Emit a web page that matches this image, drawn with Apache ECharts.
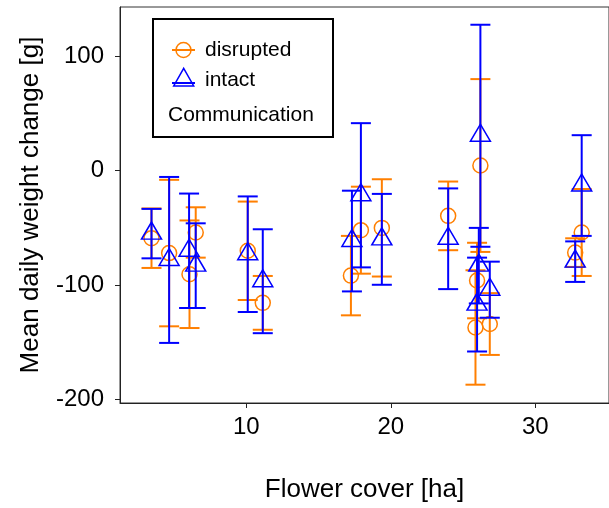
<!DOCTYPE html>
<html>
<head>
<meta charset="utf-8">
<script src="https://cdn.jsdelivr.net/npm/echarts@6/dist/echarts.min.js"></script>
<style>
  html, body { margin: 0; padding: 0; background: #fff; }
  #chart { width: 609px; height: 508px; }
</style>
</head>
<body>
<div id="chart"></div>
<script>
// Flower cover [ha] and mean daily weight change [g] (+/- error) per site
const coverDisrupted = [3.44, 4.66, 6.07, 6.5, 10.1, 11.14, 17.24, 17.93, 19.38, 23.97, 26.2, 25.97, 25.86, 26.85, 32.76, 33.21]
const meanDisrupted = [-59, -72, -90.5, -54, -70, -115.5, -91.7, -52, -50, -39.5, 4.5, -96, -137, -134, -71.6, -54]
const errDisrupted = [26, 64, 47, 22, 43, 23.5, 34.7, 38, 42.5, 30, 75.5, 33, 50, 27, 12.5, 38]

const coverIntact = [3.44, 4.66, 6.04, 6.5, 10.1, 11.14, 17.31, 17.93, 19.38, 23.97, 26.2, 26.09, 25.97, 26.85, 32.76, 33.21]
const meanIntact = [-55, -78, -70, -83, -73, -96.6, -61.5, -21.5, -60, -59.5, 30.5, -83, -117, -104, -79.5, -13]
const errIntact = [21.6, 72.5, 50, 37, 50.5, 45.4, 44, 63, 39.7, 44, 97, 33, 41, 24.5, 17.7, 44]

const xTicks = [10, 20, 30]
const yTicks = [-200, -100, 0, 100]

const ORANGE = '#FF7F00'
const BLUE = '#0000FF'
const FONT = '"Liberation Sans", Arial, sans-serif'

const pointData = (xs, ms) => xs.map((x, i) => [x, ms[i]])
const barData = (xs, ms, es) => xs.map((x, i) => [x, ms[i] - es[i], ms[i] + es[i]])

// vertical error bar with caps
const errorBar = (color) => (params, api) => {
  const x = api.value(0)
  const top = api.coord([x, api.value(2)])
  const bot = api.coord([x, api.value(1)])
  const half = 10
  const style = { stroke: color, lineWidth: 2 }
  const line = (x1, y1, x2, y2) => ({ type: 'line', shape: { x1, y1, x2, y2 }, style })
  return {
    type: 'group',
    children: [
      line(top[0], top[1], bot[0], bot[1]),
      line(top[0] - half, top[1], top[0] + half, top[1]),
      line(bot[0] - half, bot[1], bot[0] + half, bot[1])
    ]
  }
}

const chart = echarts.init(document.getElementById('chart'))

chart.setOption({
  animation: false,
  textStyle: { fontFamily: FONT },
  grid: {
    left: 120, top: 7, right: -2, bottom: 105,
    show: true, borderColor: '#333', borderWidth: 1
  },
  xAxis: {
    type: 'value',
    min: 1.26,
    max: 35.1,
    name: 'Flower cover [ha]',
    nameLocation: 'middle',
    nameGap: 74,
    nameTextStyle: { fontSize: 26, color: '#000', fontFamily: FONT },
    splitLine: { show: false },
    axisLine: { onZero: false, lineStyle: { color: '#222', width: 1 } },
    axisTick: { customValues: xTicks, length: 5, lineStyle: { color: '#222' } },
    axisLabel: { customValues: xTicks, fontSize: 24, color: '#000', margin: 12, fontFamily: FONT }
  },
  yAxis: {
    type: 'value',
    min: -203,
    max: 143,
    name: 'Mean daily weight change [g]',
    nameLocation: 'middle',
    nameGap: 76,
    nameTextStyle: { fontSize: 26, color: '#000', fontFamily: FONT },
    splitLine: { show: false },
    axisLine: { show: true, onZero: false, lineStyle: { color: '#222', width: 1 } },
    axisTick: { show: true, customValues: yTicks, length: 5, lineStyle: { color: '#222' } },
    axisLabel: { customValues: yTicks, fontSize: 24, color: '#000', margin: 16, fontFamily: FONT }
  },
  series: [
    {
      type: 'custom',
      name: 'disrupted bars',
      renderItem: errorBar(ORANGE),
      encode: { x: 0, y: [1, 2] },
      data: barData(coverDisrupted, meanDisrupted, errDisrupted),
      z: 2
    },
    {
      type: 'scatter',
      name: 'disrupted',
      data: pointData(coverDisrupted, meanDisrupted),
      symbol: 'circle',
      symbolSize: 15,
      itemStyle: { color: 'rgba(0,0,0,0)', borderColor: ORANGE, borderWidth: 1.5, opacity: 1 },
      z: 3
    },
    {
      type: 'custom',
      name: 'intact bars',
      renderItem: errorBar(BLUE),
      encode: { x: 0, y: [1, 2] },
      data: barData(coverIntact, meanIntact, errIntact),
      z: 4
    },
    {
      type: 'scatter',
      name: 'intact',
      data: pointData(coverIntact, meanIntact),
      symbol: 'triangle',
      symbolSize: [20, 17],
      symbolOffset: [0, -3],
      itemStyle: { color: 'rgba(0,0,0,0)', borderColor: BLUE, borderWidth: 1.5, opacity: 1 },
      z: 5
    }
  ],
  // legend box drawn by hand: keys with error-bar line, plus the title below
  graphic: [
    { type: 'rect', shape: { x: 153, y: 19, width: 180, height: 118 }, style: { fill: '#fff', stroke: '#000', lineWidth: 2 } },
    { type: 'line', shape: { x1: 172, y1: 50, x2: 195, y2: 50 }, style: { stroke: ORANGE, lineWidth: 2 } },
    { type: 'circle', shape: { cx: 183.5, cy: 50, r: 7.5 }, style: { fill: 'none', stroke: ORANGE, lineWidth: 1.5 } },
    { type: 'line', shape: { x1: 172, y1: 83, x2: 195, y2: 83 }, style: { stroke: BLUE, lineWidth: 2 } },
    { type: 'polygon', shape: { points: [[183.7, 68.3], [193.7, 86], [173.7, 86]] }, style: { fill: 'none', stroke: BLUE, lineWidth: 1.5 } },
    { type: 'text', style: { x: 205, y: 50, text: 'disrupted', font: '21px ' + FONT, fill: '#000', verticalAlign: 'middle' } },
    { type: 'text', style: { x: 205, y: 80, text: 'intact', font: '21px ' + FONT, fill: '#000', verticalAlign: 'middle' } },
    { type: 'text', style: { x: 168, y: 115, text: 'Communication', font: '21px ' + FONT, fill: '#000', verticalAlign: 'middle' } }
  ]
})
</script>
</body>
</html>
